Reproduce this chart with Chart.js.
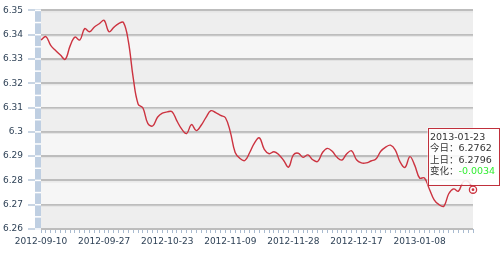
<!DOCTYPE html>
<html>
<head>
<meta charset="utf-8">
<script src="https://cdn.jsdelivr.net/npm/chart.js@4"></script>
<style>
  html, body { margin: 0; padding: 0; background: #fff; }
  #rate { display: block; }
</style>
</head>
<body>
<canvas id="rate" width="500" height="253"></canvas>
<script>
// trading days, 2012-09-10 .. 2013-01-23
const dates = [
  '2012-09-10', '2012-09-11', '2012-09-12', '2012-09-13', '2012-09-14',
  '2012-09-17', '2012-09-18', '2012-09-19', '2012-09-20', '2012-09-21',
  '2012-09-24', '2012-09-25', '2012-09-26', '2012-09-27', '2012-09-28',
  '2012-10-08', '2012-10-09', '2012-10-10', '2012-10-11', '2012-10-12',
  '2012-10-15', '2012-10-16', '2012-10-17', '2012-10-18', '2012-10-19',
  '2012-10-22', '2012-10-23', '2012-10-24', '2012-10-25', '2012-10-26',
  '2012-10-29', '2012-10-30', '2012-10-31', '2012-11-01', '2012-11-02',
  '2012-11-05', '2012-11-06', '2012-11-07', '2012-11-08', '2012-11-09',
  '2012-11-12', '2012-11-13', '2012-11-14', '2012-11-15', '2012-11-16',
  '2012-11-19', '2012-11-20', '2012-11-21', '2012-11-22', '2012-11-23',
  '2012-11-26', '2012-11-27', '2012-11-28', '2012-11-29', '2012-11-30',
  '2012-12-03', '2012-12-04', '2012-12-05', '2012-12-06', '2012-12-07',
  '2012-12-10', '2012-12-11', '2012-12-12', '2012-12-13', '2012-12-14',
  '2012-12-17', '2012-12-18', '2012-12-19', '2012-12-20', '2012-12-21',
  '2012-12-24', '2012-12-25', '2012-12-26', '2012-12-27', '2012-12-28',
  '2012-12-31', '2013-01-04', '2013-01-07', '2013-01-08', '2013-01-09',
  '2013-01-10', '2013-01-11', '2013-01-14', '2013-01-15', '2013-01-16',
  '2013-01-17', '2013-01-18', '2013-01-21', '2013-01-22', '2013-01-23'
];

const rates = [
  6.3378, 6.3392, 6.3356, 6.3335, 6.3316, 6.3299, 6.3354, 6.3390, 6.3378, 6.3425,
  6.3412, 6.3432, 6.3445, 6.3459, 6.3412, 6.3430, 6.3446, 6.3450, 6.3372, 6.3222,
  6.3115, 6.3098, 6.3035, 6.3024, 6.3060, 6.3077, 6.3082, 6.3083, 6.3045, 6.3011,
  6.2993, 6.3030, 6.3005, 6.3027, 6.3060, 6.3087, 6.3079, 6.3068, 6.3058, 6.3000,
  6.2915, 6.2890, 6.2882, 6.2915, 6.2955, 6.2975, 6.2928, 6.2910, 6.2918, 6.2906,
  6.2882, 6.2855, 6.2905, 6.2912, 6.2895, 6.2905, 6.2885, 6.2878, 6.2915, 6.2932,
  6.2920, 6.2895, 6.2884, 6.2910, 6.2922, 6.2885, 6.2872, 6.2872, 6.2880, 6.2888,
  6.2920, 6.2937, 6.2945, 6.2925, 6.2875, 6.2854, 6.2898, 6.2862, 6.2810, 6.2810,
  6.2765, 6.2720, 6.2700, 6.2694, 6.2745, 6.2765, 6.2756, 6.2795, 6.2796, 6.2762
];

const yMin = 6.26
const yMax = 6.35
const labelEvery = 13

const last = rates.length - 1
const font = '"DejaVu Sans", "Noto Sans CJK SC", sans-serif'
const axisColor = '#2f4257'

// striped plot background + the blue bar on the y axis
const frame = {
  id: 'frame',
  beforeDraw(chart) {
    const { ctx, chartArea: a, scales: { y } } = chart
    ctx.save()
    ctx.fillStyle = '#f6f6f6'
    ctx.fillRect(a.left, a.top, a.right - a.left, a.bottom - a.top)
    ctx.fillStyle = '#eeeeee'
    for (let k = 0; yMax - (k + 1) * 0.01 >= yMin - 1e-9; k += 2) {
      const t = y.getPixelForValue(yMax - k * 0.01)
      const b = y.getPixelForValue(yMax - (k + 1) * 0.01)
      ctx.fillRect(a.left, t, a.right - a.left, b - t)
    }
    ctx.restore()
  },
  beforeDatasetsDraw(chart) {
    const { ctx, chartArea: a, scales: { y } } = chart
    ctx.save()
    // soft highlight under each grid line
    ctx.fillStyle = '#e2e2e2'
    for (let v = yMin + 0.01; v <= yMax + 1e-9; v += 0.01) {
      const p = y.getPixelForValue(v)
      ctx.fillRect(a.left, p + 1, a.right - a.left, 1)
    }
    ctx.fillStyle = '#bfcfe2'
    ctx.fillRect(a.left - 6, a.top, 6, a.bottom - a.top)
    ctx.fillStyle = '#ffffff'
    for (let v = yMin; v <= yMax + 1e-9; v += 0.005) {
      const p = y.getPixelForValue(v)
      ctx.fillRect(a.left - 6, p - 0.75, 6, 1.5)
    }
    ctx.restore()
  }
}

// fixed tooltip for the latest day
const infoBox = {
  id: 'infoBox',
  afterDraw(chart) {
    const { ctx } = chart
    const pt = chart.getDatasetMeta(0).data[last]
    const today = rates[last]
    const prev = rates[last - 1]
    const diff = today - prev
    const bx = pt.x - 45.5
    const by = pt.y - 62
    ctx.save()
    ctx.fillStyle = 'rgba(255,255,255,0.88)'
    ctx.fillRect(bx, by, 71, 57)
    ctx.strokeStyle = '#c0303c'
    ctx.lineWidth = 1
    ctx.strokeRect(Math.round(bx) + 0.5, Math.round(by) + 0.5, 71, 57)
    ctx.font = '9.5px ' + font
    ctx.textBaseline = 'middle'
    ctx.fillStyle = '#333333'
    const tx = bx + 2.5
    ctx.fillText(dates[last], tx, by + 9.5)
    ctx.fillText('今日：' + today.toFixed(4), tx, by + 21)
    ctx.fillText('上日：' + prev.toFixed(4), tx, by + 32.5)
    const lab = '变化：'
    ctx.fillText(lab, tx, by + 44)
    ctx.fillStyle = diff < 0 ? '#33ee33' : '#dd2222'
    ctx.fillText((diff > 0 ? '+' : '') + diff.toFixed(4), tx + ctx.measureText(lab).width, by + 44)

    // marker on the latest point
    ctx.beginPath()
    ctx.arc(pt.x, pt.y, 3.6, 0, Math.PI * 2)
    ctx.fillStyle = '#ffffff'
    ctx.fill()
    ctx.lineWidth = 1.3
    ctx.strokeStyle = '#cc3340'
    ctx.stroke()
    ctx.beginPath()
    ctx.arc(pt.x, pt.y, 1.4, 0, Math.PI * 2)
    ctx.fillStyle = '#cc3340'
    ctx.fill()
    ctx.restore()
  }
}

const cx = document.getElementById('rate').getContext('2d')
const rateChart = new Chart(cx, {
  type: 'line',
  data: {
    labels: dates,
    datasets: [{
      data: rates,
      borderColor: '#cc3340',
      borderWidth: 1.4,
      tension: 0.4,
      pointRadius: 0,
      fill: false
    }]
  },
  options: {
    responsive: false,
    animation: false,
    events: [],
    layout: {
      padding: { top: 8, right: 27, left: 0, bottom: 0 }
    },
    plugins: {
      legend: { display: false },
      tooltip: { enabled: false }
    },
    scales: {
      x: {
        offset: false,
        border: { display: false },
        grid: {
          drawOnChartArea: false,
          drawTicks: true,
          tickLength: 4,
          color: '#a9bbd0',
          tickColor: '#a9bbd0',
          lineWidth: 1
        },
        ticks: {
          autoSkip: false,
          maxRotation: 0,
          padding: 3,
          color: axisColor,
          font: { family: font, size: 9 },
          callback: (v, i) => (i % labelEvery === 0 ? dates[i] : '')
        },
        afterFit: s => { s.height = 24 }
      },
      y: {
        min: yMin,
        max: yMax,
        border: { display: false },
        grid: {
          color: '#bdbdbd',
          tickColor: '#c9d5e3',
          lineWidth: 2,
          drawTicks: true,
          tickLength: 13
        },
        ticks: {
          stepSize: 0.01,
          padding: 5,
          color: axisColor,
          font: { family: font, size: 9 },
          callback: v => String(+v.toFixed(2))
        },
        afterFit: s => { s.width = 41 }
      }
    }
  },
  plugins: [frame, infoBox]
});
</script>
</body>
</html>
